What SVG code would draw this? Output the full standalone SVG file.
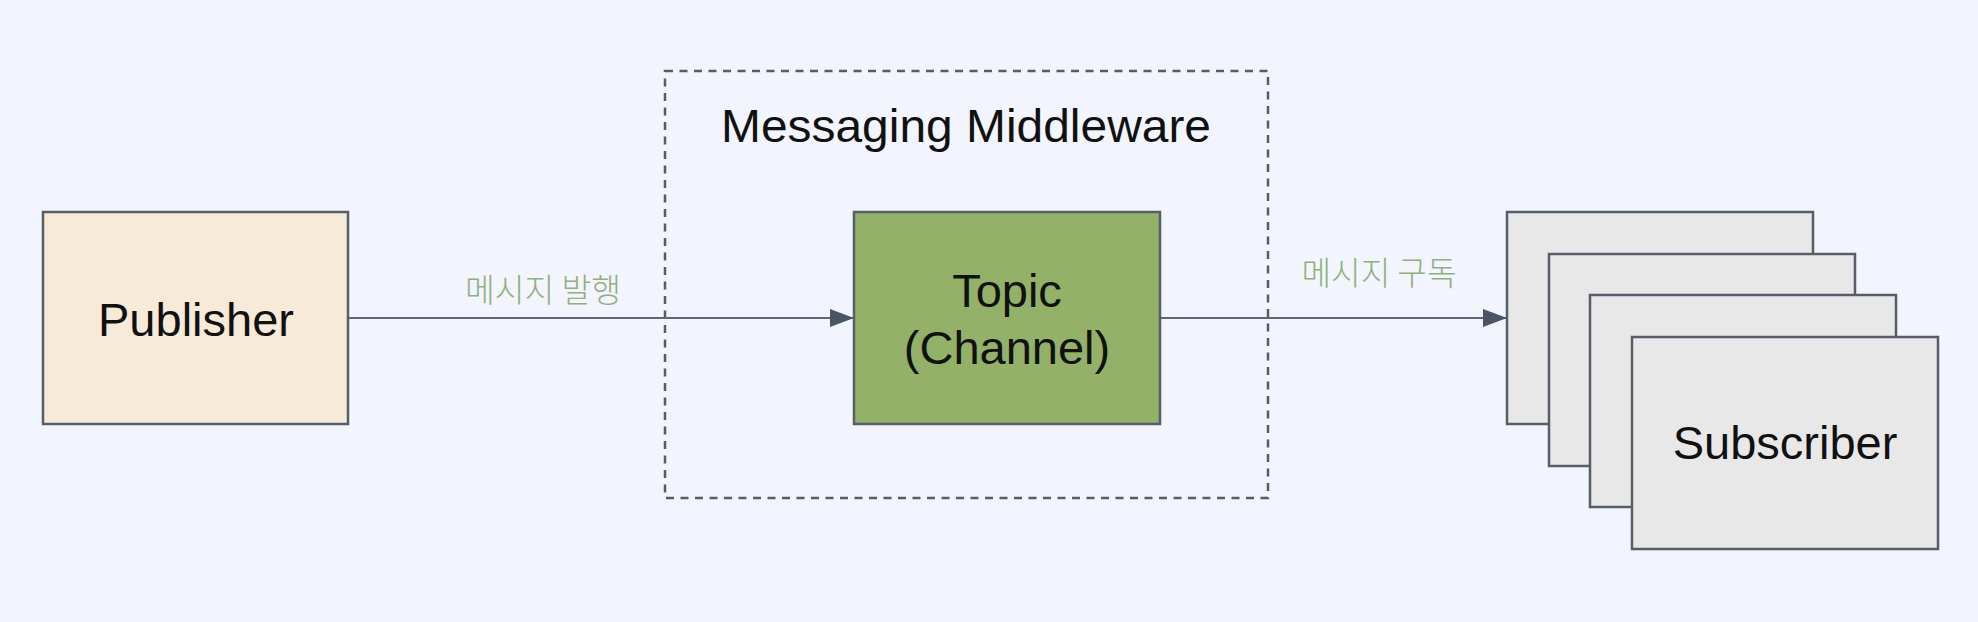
<svg xmlns="http://www.w3.org/2000/svg" width="1978" height="622" viewBox="0 0 1978 622">
<style>
.box{stroke:#575e69;stroke-width:2.5}
.lbl{font-family:"Liberation Sans",Arial,sans-serif;font-size:47px;fill:#111;text-anchor:middle}
.edge{font-family:"Noto Sans CJK KR","Noto Sans",sans-serif;font-size:33px;font-weight:300;fill:#8fb17a;text-anchor:middle}
.conn{stroke:#5f6774;stroke-width:2;fill:none}
</style>
<defs>
<marker id="arr" markerUnits="userSpaceOnUse" markerWidth="24" markerHeight="18" refX="24" refY="9" orient="auto">
<path d="M0,0 L24,9 L0,18 Z" fill="#4b5466"/>
</marker>
</defs>
<rect width="1978" height="622" fill="#f2f5fd"/>
<g id="middleware">
<rect x="665" y="71" width="603" height="427" fill="none" stroke="#565d68" stroke-width="2.5" stroke-dasharray="8 6.5"/>
<text class="lbl" x="966" y="142" textLength="490" lengthAdjust="spacingAndGlyphs">Messaging Middleware</text>
</g>
<g id="connectors">
<line class="conn" x1="348" y1="318" x2="854" y2="318" marker-end="url(#arr)"/>
<text class="edge" x="543" y="302" textLength="156" lengthAdjust="spacingAndGlyphs">메시지 발행</text>
<line class="conn" x1="1160" y1="318" x2="1507" y2="318" marker-end="url(#arr)"/>
<text class="edge" x="1379" y="285" textLength="155" lengthAdjust="spacingAndGlyphs">메시지 구독</text>
</g>
<g id="publisher">
<rect class="box" x="43" y="212" width="305" height="212" fill="#f7ead9"/>
<text class="lbl" x="196" y="336">Publisher</text>
</g>
<g id="topic">
<rect class="box" x="854" y="212" width="306" height="212" fill="#93b267"/>
<text class="lbl" x="1007" y="307">Topic</text>
<text class="lbl" x="1007" y="364">(Channel)</text>
</g>
<g id="subscribers">
<rect class="box" x="1507" y="212" width="306" height="212" fill="#e8e8e9"/>
<rect class="box" x="1549" y="254" width="306" height="212" fill="#e8e8e9"/>
<rect class="box" x="1590" y="295" width="306" height="212" fill="#e8e8e9"/>
<rect class="box" x="1632" y="337" width="306" height="212" fill="#e8e8e9"/>
<text class="lbl" x="1785" y="459">Subscriber</text>
</g>
</svg>
